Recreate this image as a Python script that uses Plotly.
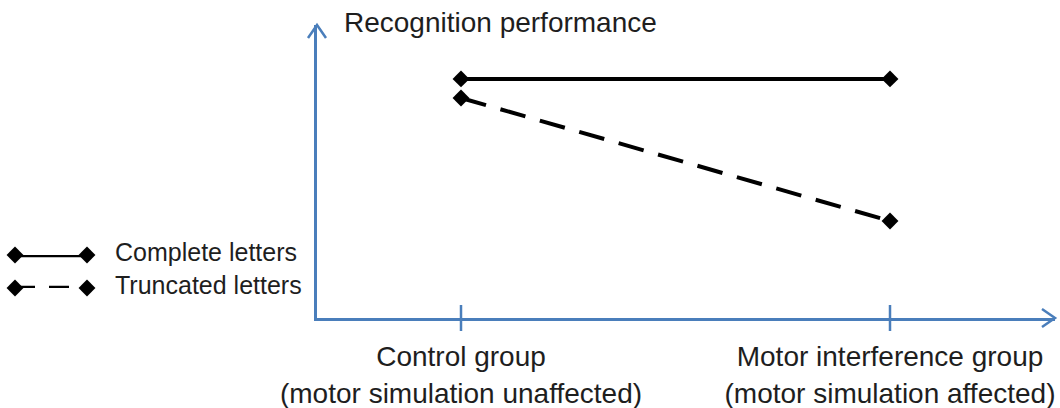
import plotly.graph_objects as go

# ---- data ----
group_names = ["Control group", "Motor interference group"]
group_notes = ["(motor simulation unaffected)", "(motor simulation affected)"]
group_pos = [0, 1]
complete_letters = [8.16, 8.16]
truncated_letters = [7.51, 3.31]
series_names = ["Complete letters", "Truncated letters"]
y_title = "Recognition performance"

# ---- layout constants ----
W, H = 1060, 408
ML, MR, MT, MB = 0, 5, 25, 90
PW = W - ML - MR
PH = H - MT - MB
axis_x0 = 317 / PW
axis_color = "#4a7ebb"
font_family = "Liberation Sans, Arial, sans-serif"
txt_color = "#1e1e1e"
x_range = [-144 / 429, 1 + 165 / 429]

fig = go.Figure()

# main data traces
fig.add_trace(go.Scatter(
    x=group_pos, y=complete_letters, mode="lines+markers", name=series_names[0],
    line=dict(color="black", width=4),
    marker=dict(symbol="diamond", size=13, color="black"),
    cliponaxis=False, showlegend=False))
fig.add_trace(go.Scatter(
    x=group_pos, y=truncated_letters, mode="lines+markers", name=series_names[1],
    line=dict(color="black", width=4, dash="26px,15px"),
    marker=dict(symbol="diamond", size=13, color="black"),
    cliponaxis=False, showlegend=False))

# custom legend (line with markers at both ends)
legend_rows = [1, 0]
for name, row, dash in zip(series_names, legend_rows, ["solid", "20px,14px"]):
    fig.add_trace(go.Scatter(
        x=[0, 1], y=[row, row], mode="lines+markers", xaxis="x2", yaxis="y2",
        line=dict(color="black", width=4.5, dash=dash),
        marker=dict(symbol="diamond", size=13, color="black"),
        cliponaxis=False, showlegend=False, hoverinfo="skip"))
    fig.add_annotation(text=name, xref="paper", x=113 / PW, xanchor="left",
                       yref="y2", y=row, yanchor="middle", yshift=3, showarrow=False,
                       font=dict(size=25, color=txt_color, family=font_family))

# y-axis title
fig.add_annotation(text=y_title, xref="paper", x=342 / PW, xanchor="left",
                   yref="paper", y=1 + 2 / PH, yanchor="middle", showarrow=False,
                   font=dict(size=28, color=txt_color, family=font_family))

# tick marks crossing the x axis
for gx in group_pos:
    fig.add_shape(type="line", xref="x", yref="paper", x0=gx, x1=gx,
                  y0=-13 / PH, y1=13 / PH,
                  line=dict(color=axis_color, width=2.5), layer="above")

# arrow heads
ax_w, ax_h = 13 / PW, 9 / PH
fig.add_shape(type="path", xref="paper", yref="paper",
              path=f"M {1 - ax_w} {ax_h} L 1 0 L {1 - ax_w} {-ax_h}",
              line=dict(color=axis_color, width=2.5))
ay_w, ay_h = 9 / PW, 13 / PH
fig.add_shape(type="path", xref="paper", yref="paper",
              path=f"M {axis_x0 - ay_w} {1 - ay_h} L {axis_x0} 1 L {axis_x0 + ay_w} {1 - ay_h}",
              line=dict(color=axis_color, width=2.5))

tick_font = dict(size=28, color=txt_color, family=font_family)
fig.update_layout(
    width=W, height=H,
    margin=dict(l=ML, r=MR, t=MT, b=MB, autoexpand=False),
    paper_bgcolor="white", plot_bgcolor="white",
    showlegend=False,
    font=dict(family=font_family, color=txt_color),
    xaxis=dict(domain=[axis_x0, 1], range=x_range, automargin=False,
               showline=True, linecolor=axis_color, linewidth=2.5,
               showgrid=False, zeroline=False, ticks="",
               tickvals=group_pos, ticktext=group_names, tickfont=tick_font,
               ticklabelstandoff=12, fixedrange=True),
    xaxis3=dict(domain=[axis_x0, 1], range=x_range, automargin=False,
                overlaying="x", anchor="y", side="bottom",
                showline=False, showgrid=False, zeroline=False, ticks="",
                tickvals=group_pos, ticktext=group_notes, tickfont=tick_font,
                ticklabelstandoff=56, fixedrange=True),
    yaxis=dict(range=[0, 10], showline=True, linecolor=axis_color, linewidth=2.5,
               showgrid=False, zeroline=False, showticklabels=False, ticks="",
               automargin=False, fixedrange=True),
    xaxis2=dict(domain=[15 / PW, 87 / PW], range=[0, 1], visible=False,
                anchor="y2", automargin=False, fixedrange=True),
    yaxis2=dict(domain=[(318 - 288) / PH, (318 - 255) / PH], range=[0, 1],
                visible=False, anchor="x2", automargin=False, fixedrange=True),
)
# dummy trace so xaxis3 is drawn
fig.add_trace(go.Scatter(x=group_pos, y=[None, None], xaxis="x3", yaxis="y",
                         mode="markers", showlegend=False, hoverinfo="skip"))

fig.write_html("out.html", config={"displayModeBar": False},
               post_script="document.body.style.margin='0px';")
